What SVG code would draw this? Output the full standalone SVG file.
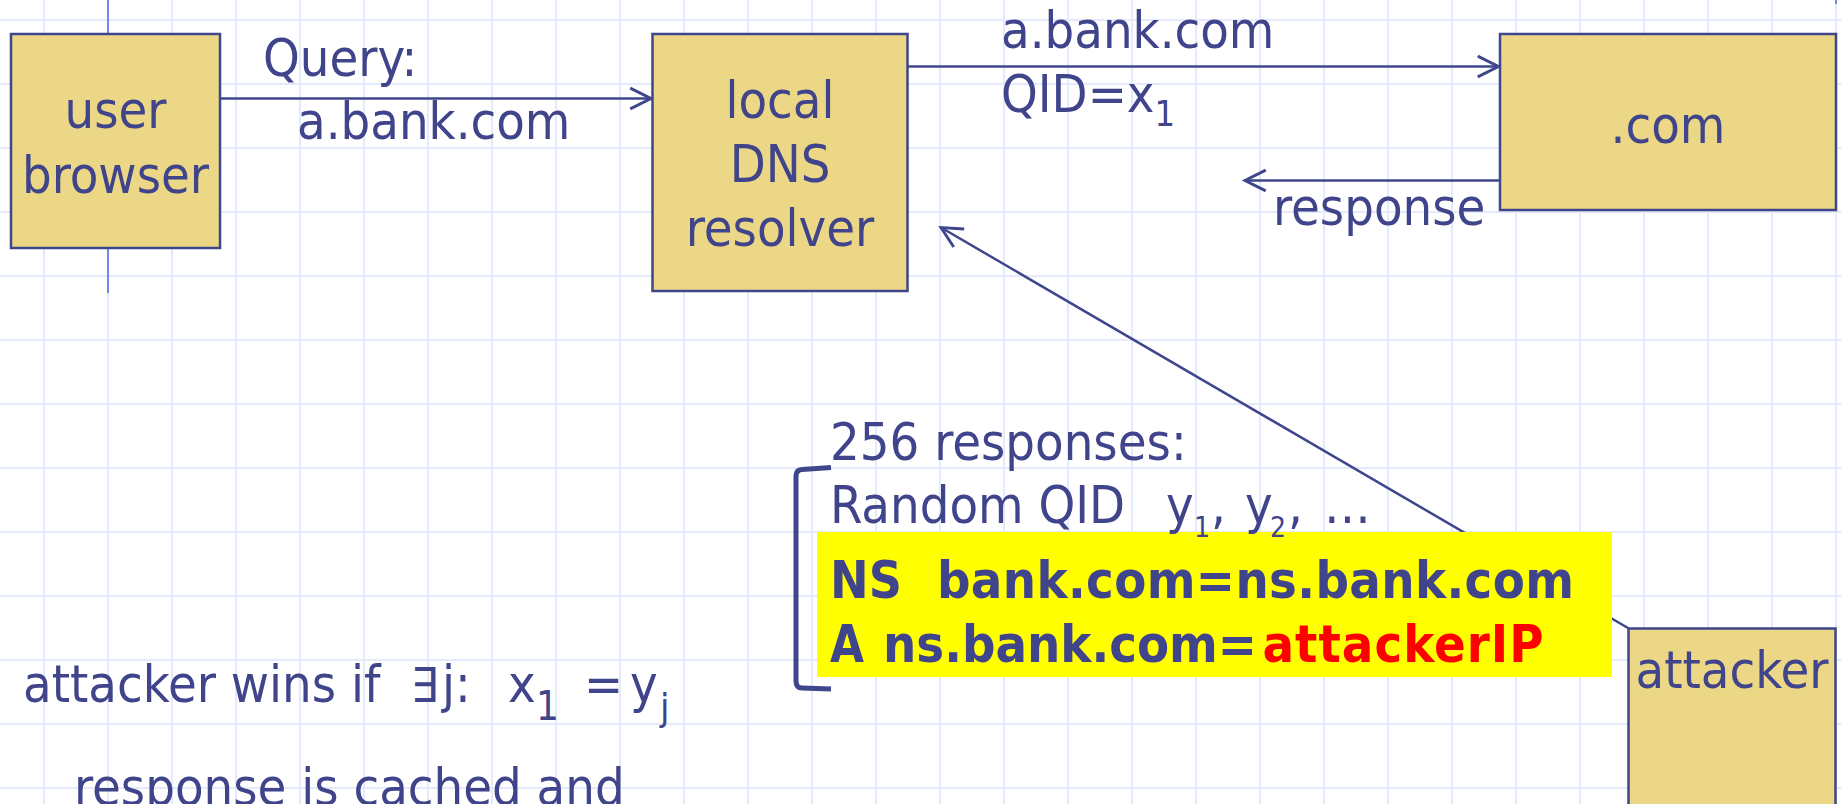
<svg xmlns="http://www.w3.org/2000/svg" width="1841" height="804" viewBox="0 0 1841 804">
<style>
.grid{stroke:#E4EAFB;stroke-width:2;fill:none}
.guide{stroke:#7088F0;stroke-width:2;fill:none}
.box{fill:#EBD785;stroke:#3F468B;stroke-width:2.5}
.conn{stroke:#3F468B;stroke-width:2.5;fill:none}
.t{font-family:"DejaVu Sans Condensed","Liberation Sans",sans-serif;font-size:52px;fill:#3F448B}
.c{text-anchor:middle}
.b{font-family:"DejaVu Sans Condensed","Liberation Sans",sans-serif;font-size:52px;font-weight:bold;fill:#3F448B}
.red{fill:#FF0000}
</style>
<defs>
<marker id="arr" markerUnits="userSpaceOnUse" markerWidth="30" markerHeight="30" viewBox="-22 -12 26 24" refX="0" refY="0" orient="auto">
<path d="M-18,-9 L0,0 L-18,9" fill="none" stroke="#3F468B" stroke-width="2.5"/>
</marker>
</defs>
<rect x="0" y="0" width="1841" height="804" fill="#FFFFFF"/>
<g id="grid">
<path class="grid" d="M44 0V804M108 0V804M172 0V804M236 0V804M300 0V804M364 0V804M428 0V804M492 0V804M556 0V804M620 0V804M684 0V804M748 0V804M812 0V804M876 0V804M940 0V804M1004 0V804M1068 0V804M1132 0V804M1196 0V804M1260 0V804M1324 0V804M1388 0V804M1452 0V804M1516 0V804M1580 0V804M1644 0V804M1708 0V804M1772 0V804M1836 0V804"/>
<path class="grid" d="M0 20H1841M0 84H1841M0 148H1841M0 212H1841M0 276H1841M0 340H1841M0 404H1841M0 468H1841M0 532H1841M0 596H1841M0 660H1841M0 724H1841M0 788H1841"/>
<path class="guide" d="M108 0V293M1836 0V4"/>
</g>
<g id="connectors">
<path class="conn" d="M220 98.5H651" marker-end="url(#arr)"/>
<path class="conn" d="M908 66.5H1498.5" marker-end="url(#arr)"/>
<path class="conn" d="M1500 180.5H1245" marker-end="url(#arr)"/>
<path class="conn" d="M1628 628L941 227.5" marker-end="url(#arr)"/>
<text class="t" x="263" y="76">Query:</text>
<text class="t" x="297" y="139">a.bank.com</text>
<text class="t" x="1001" y="48">a.bank.com</text>
<text class="t" x="1001" y="112">QID=x<tspan style="font-size:36px" dy="14">1</tspan></text>
<text class="t" x="1273" y="225">response</text>
</g>
<g id="user-browser">
<rect class="box" x="11" y="34" width="209" height="214"/>
<text class="t c" x="115.5" y="128">user</text>
<text class="t c" x="115.5" y="193">browser</text>
</g>
<g id="local-dns-resolver">
<rect class="box" x="652.5" y="34" width="255" height="257"/>
<text class="t c" x="780" y="118">local</text>
<text class="t c" x="780" y="182">DNS</text>
<text class="t c" x="780" y="246">resolver</text>
</g>
<g id="dot-com">
<rect class="box" x="1500" y="34" width="336" height="176"/>
<text class="t c" x="1668" y="143">.com</text>
</g>
<g id="attacker">
<rect class="box" x="1628.5" y="628.5" width="207" height="200"/>
<text class="t c" x="1732" y="688">attacker</text>
</g>
<g id="responses">
<path d="M831 467.5L802 469.5Q796 470 796 476V681Q796 688 802 688L831 689" fill="none" stroke="#3F468B" stroke-width="5"/>
<rect x="817" y="532" width="795" height="145" fill="#FFFF00"/>
<text class="t" x="830" y="460">256 responses:</text>
<text class="t" x="830" y="523">Random QID</text>
<text class="t" x="1166" y="523">y</text>
<text class="t" x="1194" y="537" style="font-size:28px">1</text>
<text class="t" x="1211" y="523">,</text>
<text class="t" x="1245" y="523">y</text>
<text class="t" x="1270" y="537" style="font-size:28px">2</text>
<text class="t" x="1288" y="523">,</text>
<text class="t" x="1324" y="523">…</text>
<text class="b" x="830" y="598" textLength="72" lengthAdjust="spacingAndGlyphs">NS</text>
<text class="b" x="937" y="598" textLength="637">bank.com=ns.bank.com</text>
<text class="b" x="830" y="662" textLength="34" lengthAdjust="spacingAndGlyphs">A</text>
<text class="b" x="883" y="662" textLength="374">ns.bank.com=</text>
<text class="b red" x="1262.5" y="662" textLength="281">attackerIP</text>
</g>
<g id="notes">
<text class="t" x="23" y="702">attacker wins if</text>
<text class="t" x="411" y="702" style="font-size:48px">∃</text>
<text class="t" x="442" y="702">j:</text>
<text class="t" x="508" y="702">x</text>
<text class="t" x="536" y="720" style="font-size:40px">1</text>
<text class="t" x="584" y="702">=</text>
<text class="t" x="630" y="702">y</text>
<text class="t" x="660" y="720" style="font-size:38px">j</text>
<text class="t" x="74" y="805">response is cached and</text>
</g>
</svg>
